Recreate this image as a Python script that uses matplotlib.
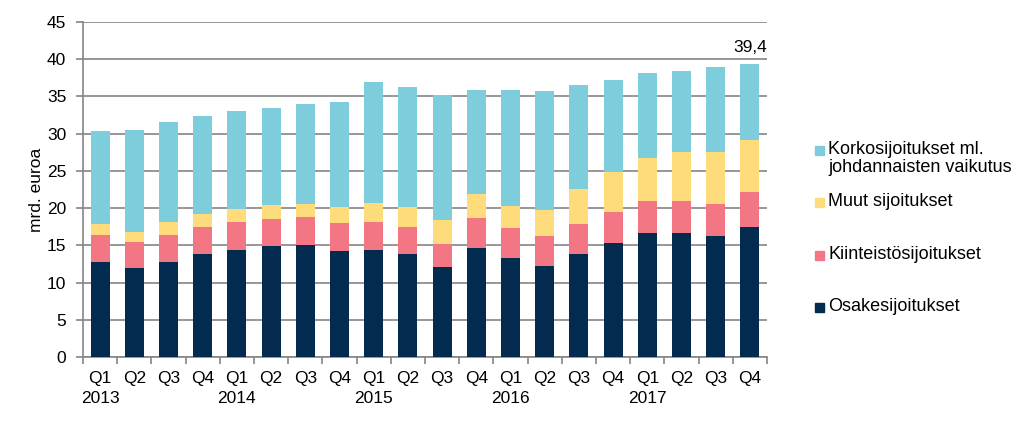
import numpy as np
import matplotlib
matplotlib.use("Agg")
from matplotlib import pyplot as plt
from matplotlib.patches import Rectangle

plt.rcParams['font.family'] = ['Liberation Sans', 'DejaVu Sans']

# Quarters and years
quarters = ['Q1', 'Q2', 'Q3', 'Q4'] * 5
years = ['2013', '2014', '2015', '2016', '2017']

# Cumulative tops (mrd. euroa)
osake = [12.8, 12.0, 12.8, 13.8, 14.4, 14.9, 15.1, 14.3, 14.4, 13.9,
         12.1, 14.7, 13.3, 12.2, 13.8, 15.3, 16.7, 16.6, 16.3, 17.5]
kiint_top = [16.4, 15.4, 16.4, 17.5, 18.1, 18.5, 18.8, 18.0, 18.1, 17.4,
             15.2, 18.7, 17.3, 16.3, 17.9, 19.5, 21.0, 21.0, 20.6, 22.2]
muut_top = [17.9, 16.8, 18.1, 19.2, 19.9, 20.4, 20.6, 20.1, 20.7, 20.1,
            18.4, 21.9, 20.3, 19.7, 22.6, 24.9, 26.7, 27.5, 27.5, 29.1]
total = [30.3, 30.5, 31.5, 32.4, 33.0, 33.5, 34.0, 34.2, 36.9, 36.3,
         35.2, 35.8, 35.8, 35.7, 36.5, 37.2, 38.2, 38.4, 38.9, 39.4]

kiint = np.array(kiint_top) - np.array(osake)
muut = np.array(muut_top) - np.array(kiint_top)
korko = np.array(total) - np.array(muut_top)

labels = ['Korkosijoitukset ml.\njohdannaisten vaikutus', 'Muut sijoitukset',
          'Kiinteistösijoitukset', 'Osakesijoitukset']
colors = ['#7ECDDC', '#FEDB7B', '#F27683', '#032A4F']
grid_c = '#858585'

fig = plt.figure(figsize=(10.24, 4.24), dpi=100)
ax = fig.add_axes([83 / 1024, 1 - 357 / 424, 684 / 1024, 335 / 424])

x = np.arange(len(quarters))
w = 0.56
ax.bar(x, osake, w, color=colors[3], zorder=3)
ax.bar(x, kiint, w, bottom=osake, color=colors[2], zorder=3)
ax.bar(x, muut, w, bottom=kiint_top, color=colors[1], zorder=3)
ax.bar(x, korko, w, bottom=muut_top, color=colors[0], zorder=3)

ax.text(x[-1], total[-1] + 1.2, '39,4', ha='center', va='bottom', fontsize=12.5)

ax.set_xlim(-0.5, len(quarters) - 0.5)
ax.set_ylim(0, 45)
ax.set_yticks(range(0, 46, 5))
ax.yaxis.grid(True, color=grid_c, linewidth=1.2, zorder=0)

ticklabels = []
for i, q in enumerate(quarters):
    if i % 4 == 0:
        ticklabels.append(q + '\n' + years[i // 4])
    else:
        ticklabels.append(q)
ax.set_xticks(x)
ax.set_xticklabels(ticklabels, fontsize=12.5, linespacing=1.4, va='top')
ax.tick_params(axis='x', which='major', length=0, pad=10)
ax.set_xticks(np.arange(-0.5, len(quarters), 1), minor=True)
ax.tick_params(axis='x', which='minor', length=5, color=grid_c, width=1.2)
ax.tick_params(axis='y', length=5, color=grid_c, width=1.2, labelsize=12.5, pad=7)

for s in ['top', 'right']:
    ax.spines[s].set_visible(False)
for s in ['left', 'bottom']:
    ax.spines[s].set_color(grid_c)
    ax.spines[s].set_linewidth(1.2)

ax.set_ylabel('mrd. euroa', fontsize=12.5, labelpad=2)

# legend drawn by hand so the rows sit where they do in the original
leg_y = [150, 202, 255, 307]
for lab, c, yy in zip(labels, colors, leg_y):
    fig.patches.append(Rectangle((815 / 1024, 1 - (yy + 4.5) / 424), 9 / 1024, 9 / 424,
                                 color=c, transform=fig.transFigure))
    fig.text(828 / 1024, 1 - (yy - 9) / 424, lab, fontsize=13, va='top', ha='left',
             linespacing=1.05)

fig.savefig('out.png', dpi=100)
